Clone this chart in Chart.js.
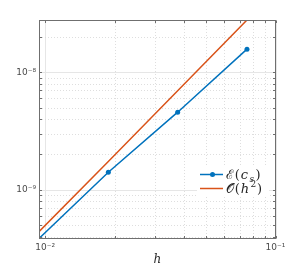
<!DOCTYPE html>
<html>
<head>
<meta charset="utf-8">
<script src="https://cdn.jsdelivr.net/npm/chart.js@4.4.1/dist/chart.umd.min.js"></script>
<style>
  html, body { margin: 0; padding: 0; background: #fff; }
</style>
</head>
<body>
<canvas id="chart" width="304" height="269"></canvas>
<script>
(function () {
  'use strict';

  // data
  var hValues = [0.0094, 0.0188, 0.0376, 0.0752];
  var errValues = [3.85e-10, 1.41e-9, 4.57e-9, 1.57e-8];
  var refValues = [4.4e-10, 1.74e-9, 6.95e-9, 2.78e-8];

  var xTickValues = [0.01, 0.1];
  var xTickLabels = ['10⁻²', '10⁻¹'];
  var yTickValues = [1e-9, 1e-8];
  var yTickLabels = ['10⁻⁹', '10⁻⁸'];

  var colors = {
    blue: '#0072BD',
    orange: '#D95319',
    frame: '#6f6f6f',
    major: '#e6e6e6',
    minor: '#dedede',
    text: '#4a4a4a'
  };

  function pairs(xs, ys) {
    return xs.map(function (x, i) { return { x: x, y: ys[i] }; });
  }

  function labelFor(values, labels, v) {
    for (var i = 0; i < values.length; i++) {
      if (Math.abs(values[i] - v) / values[i] < 1e-6) return labels[i];
    }
    return '';
  }

  // all decade steps (1..9 x 10^e) inside [min, max]
  function logSteps(min, max) {
    var out = [];
    for (var e = Math.floor(Math.log10(min)); e <= Math.ceil(Math.log10(max)); e++) {
      for (var m = 1; m < 10; m++) {
        var v = m * Math.pow(10, e);
        if (v >= min * 0.9999 && v <= max * 1.0001) out.push({ v: v, major: m === 1 });
      }
    }
    return out;
  }

  // MATLAB-style grid, box and inward ticks
  var boxPlugin = {
    id: 'box',
    beforeDatasetsDraw: function (chart) {
      var ctx = chart.ctx, a = chart.chartArea;
      var xs = chart.scales.x, ys = chart.scales.y;
      ctx.save();
      ctx.lineWidth = 1;
      logSteps(xs.min, xs.max).forEach(function (t) {
        var px = Math.round(xs.getPixelForValue(t.v)) + 0.5;
        ctx.strokeStyle = t.major ? colors.major : colors.minor;
        ctx.setLineDash(t.major ? [] : [1, 2]);
        ctx.beginPath(); ctx.moveTo(px, a.top); ctx.lineTo(px, a.bottom); ctx.stroke();
      });
      logSteps(ys.min, ys.max).forEach(function (t) {
        var py = Math.round(ys.getPixelForValue(t.v)) + 0.5;
        ctx.strokeStyle = t.major ? colors.major : colors.minor;
        ctx.setLineDash(t.major ? [] : [1, 2]);
        ctx.beginPath(); ctx.moveTo(a.left, py); ctx.lineTo(a.right, py); ctx.stroke();
      });
      ctx.restore();
    },
    afterDatasetsDraw: function (chart) {
      var ctx = chart.ctx, a = chart.chartArea;
      var xs = chart.scales.x, ys = chart.scales.y;
      var L = Math.round(a.left) + 0.5, R = Math.round(a.right) - 0.5;
      var T = Math.round(a.top) + 0.5, B = Math.round(a.bottom) - 0.5;
      var tl = 2.5;
      ctx.save();
      ctx.strokeStyle = colors.frame;
      ctx.lineWidth = 1;
      ctx.strokeRect(L, T, R - L, B - T);
      ctx.beginPath();
      logSteps(xs.min, xs.max).forEach(function (t) {
        var px = Math.round(xs.getPixelForValue(t.v)) + 0.5;
        ctx.moveTo(px, B); ctx.lineTo(px, B - tl);
        ctx.moveTo(px, T); ctx.lineTo(px, T + tl);
      });
      logSteps(ys.min, ys.max).forEach(function (t) {
        var py = Math.round(ys.getPixelForValue(t.v)) + 0.5;
        ctx.moveTo(L, py); ctx.lineTo(L + tl, py);
        ctx.moveTo(R, py); ctx.lineTo(R - tl, py);
      });
      ctx.stroke();
      ctx.restore();
    }
  };

  // legend inside the axes, math-style text
  var legendEntries = [
    { color: colors.blue, marker: true, parts: [
      { t: 'ℰ' }, { t: '(' }, { t: 'c', it: true }, { t: 's', it: true, sub: true }, { t: ')' }] },
    { color: colors.orange, marker: false, parts: [
      { t: '𝒪' }, { t: '(' }, { t: 'h', it: true }, { t: '2', sup: true }, { t: ')' }] }
  ];

  var legendPlugin = {
    id: 'mathLegend',
    afterDraw: function (chart) {
      var ctx = chart.ctx;
      var x0 = 200, y0 = 174.5, dy = 14;
      ctx.save();
      ctx.fillStyle = '#ffffff';
      ctx.fillRect(197, 165, 72, 31);
      legendEntries.forEach(function (e, i) {
        var y = y0 + i * dy;
        ctx.strokeStyle = e.color;
        ctx.lineWidth = 1.5;
        ctx.beginPath(); ctx.moveTo(x0, y); ctx.lineTo(x0 + 23, y); ctx.stroke();
        if (e.marker) {
          ctx.fillStyle = e.color;
          ctx.beginPath(); ctx.arc(x0 + 12.5, y, 2.5, 0, Math.PI * 2); ctx.fill();
        }
        var x = x0 + 26;
        ctx.fillStyle = '#262626';
        ctx.textBaseline = 'alphabetic';
        e.parts.forEach(function (p) {
          var size = (p.sub || p.sup) ? 9 : 13;
          ctx.font = (p.it ? 'italic ' : '') + size + 'px "DejaVu Serif", "Liberation Serif", serif';
          var by = y + 4.5 + (p.sub ? 2.5 : 0) + (p.sup ? -6 : 0);
          ctx.fillText(p.t, x, by);
          x += ctx.measureText(p.t).width + (p.it ? 1.5 : 0.8);
        });
      });
      ctx.restore();
    }
  };

  var ctx = document.getElementById('chart').getContext('2d');

  new Chart(ctx, {
    type: 'line',
    data: {
      datasets: [
        {
          label: 'E(c_s)',
          data: pairs(hValues, errValues),
          borderColor: colors.blue,
          backgroundColor: colors.blue,
          borderWidth: 1.5,
          pointRadius: 2.5,
          pointBorderWidth: 0,
          tension: 0
        },
        {
          label: 'O(h^2)',
          data: pairs(hValues, refValues),
          borderColor: colors.orange,
          backgroundColor: colors.orange,
          borderWidth: 1.5,
          pointRadius: 0,
          tension: 0
        }
      ]
    },
    options: {
      responsive: false,
      animation: false,
      devicePixelRatio: 1,
      layout: { padding: { top: 20, right: 28.5, left: 0, bottom: 0 } },
      plugins: { legend: { display: false }, tooltip: { enabled: false } },
      scales: {
        x: {
          type: 'logarithmic',
          min: hValues[0],
          max: 0.1,
          grid: { display: false, drawTicks: false },
          border: { display: false },
          afterBuildTicks: function (s) {
            s.ticks = xTickValues.map(function (v) { return { value: v }; });
          },
          afterFit: function (s) { s.height = 30.5; },
          ticks: {
            autoSkip: false,
            maxRotation: 0,
            padding: 4,
            color: colors.text,
            font: { family: '"DejaVu Sans", sans-serif', size: 9 },
            callback: function (v) { return labelFor(xTickValues, xTickLabels, v); }
          },
          title: {
            display: true,
            text: 'h',
            color: '#262626',
            padding: { top: 0, bottom: 2 },
            font: { family: '"DejaVu Serif", "Liberation Serif", serif', style: 'italic', size: 12 }
          }
        },
        y: {
          type: 'logarithmic',
          min: errValues[0],
          max: refValues[refValues.length - 1],
          grid: { display: false, drawTicks: false },
          border: { display: false },
          afterBuildTicks: function (s) {
            s.ticks = yTickValues.map(function (v) { return { value: v }; });
          },
          afterFit: function (s) { s.width = 39; },
          ticks: {
            autoSkip: false,
            padding: 3,
            color: colors.text,
            font: { family: '"DejaVu Sans", sans-serif', size: 9 },
            callback: function (v) { return labelFor(yTickValues, yTickLabels, v); }
          }
        }
      }
    },
    plugins: [boxPlugin, legendPlugin]
  });
})();
</script>
</body>
</html>
